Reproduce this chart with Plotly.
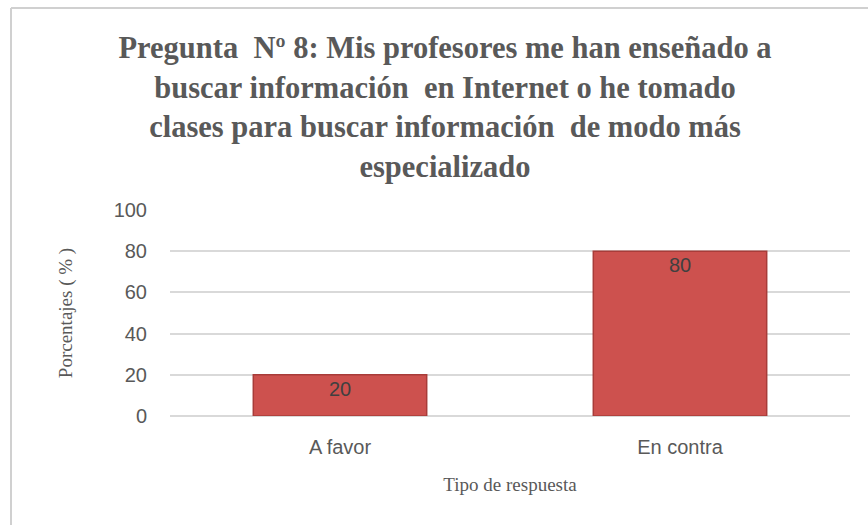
import plotly.graph_objects as go

categories = ["A favor", "En contra"]
values = [20, 80]
y_ticks = [0, 20, 40, 60, 80, 100]

title_text = ("Pregunta  Nº 8: Mis profesores me han enseñado a<br>"
              "buscar información  en Internet o he tomado<br>"
              "clases para buscar información  de modo más<br>"
              "especializado")

fig = go.Figure()
fig.add_trace(go.Bar(
    x=categories, y=values, width=0.51,
    marker=dict(color="#CD514E", line=dict(color="#A83C39", width=1.5)),
    text=[str(v) for v in values], textposition="inside", insidetextanchor="end",
    textfont=dict(family="Liberation Sans", size=20, color="#404040"),
    hoverinfo="skip",
))

fig.update_layout(
    width=868, height=525,
    margin=dict(l=170, r=18, t=210, b=109),
    paper_bgcolor="white", plot_bgcolor="white",
    showlegend=False,
    title=dict(text=title_text, x=445 / 868, xanchor="center", xref="container",
               y=1 - 58 / 525, yanchor="top", yref="container",
               font=dict(family="Liberation Serif", size=30.5, color="#595959", weight="bold")),
    xaxis=dict(showgrid=False, showline=False, ticks="", ticklabelstandoff=17,
               tickfont=dict(family="Liberation Sans", size=20, color="#595959"),
               title=dict(text="Tipo de respuesta", standoff=20,
                          font=dict(family="Liberation Serif", size=19, color="#595959"))),
    yaxis=dict(range=[0, 100], tickvals=y_ticks, showgrid=True, gridcolor="#D9D9D9", gridwidth=1.5,
               zeroline=True, zerolinecolor="#D9D9D9", zerolinewidth=1.5,
               ticks="", ticklabelstandoff=22,
               tickfont=dict(family="Liberation Sans", size=20, color="#595959"),
               title=dict(text="Porcentajes ( % )", standoff=35,
                          font=dict(family="Liberation Serif", size=19, color="#595959"))),
    shapes=[
        dict(type="line", xref="paper", yref="paper",
             x0=(11 - 170) / 680, x1=(868 - 170) / 680,
             y0=(416 - 8) / 206, y1=(416 - 8) / 206,
             line=dict(color="#D0D0D0", width=2)),
        dict(type="line", xref="paper", yref="paper",
             x0=(11 - 170) / 680, x1=(11 - 170) / 680,
             y0=(416 - 8) / 206, y1=(416 - 525) / 206,
             line=dict(color="#D0D0D0", width=2)),
    ],
)

fig.write_html("out.html", config={"displayModeBar": False},
               post_script="document.body.style.margin='0px';")
